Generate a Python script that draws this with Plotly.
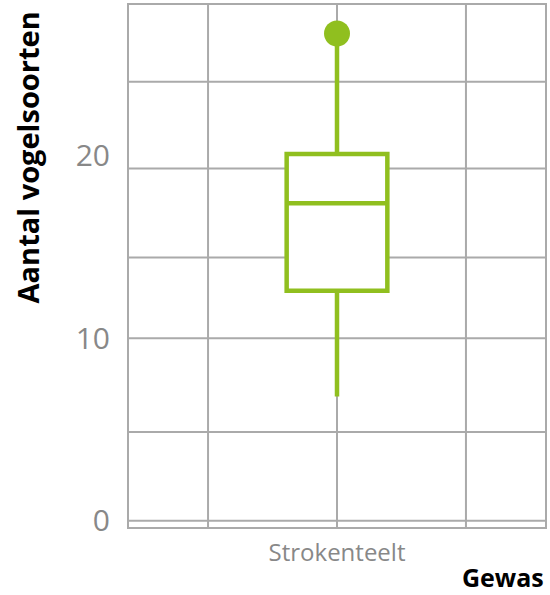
import plotly.graph_objects as go

categories = ["Strokenteelt"]
q1 = [12.6]
median = [17.4]
q3 = [20.1]
lowerfence = [6.8]
upperfence = [26.7]
outliers = [26.7]
y_tickvals = [0, 10, 20]
y_ticktext = ["0", "10", "20"]
grid_y = [0, 4.86, 10, 14.42, 19.3, 24.05]
grid_x_paper = [0.19, 0.5, 0.81]

GREEN = "#90BF1F"
GRID = "#AAAAAA"
FONT = "Open Sans"

fig = go.Figure()
fig.add_trace(go.Box(
    x=categories, q1=q1, median=median, q3=q3,
    lowerfence=lowerfence, upperfence=upperfence,
    width=0.242, whiskerwidth=0,
    line=dict(color=GREEN, width=4.5),
    fillcolor="white", boxpoints=False, showlegend=False, hoverinfo="skip",
))
fig.add_trace(go.Scatter(
    x=categories, y=outliers, mode="markers",
    marker=dict(color=GREEN, size=26, line=dict(width=0)),
    showlegend=False, hoverinfo="skip",
))

shapes = []
for gy in grid_y:
    shapes.append(dict(type="line", xref="paper", yref="y", x0=0, x1=1, y0=gy, y1=gy,
                       line=dict(color=GRID, width=2), layer="below"))
for gx in grid_x_paper:
    shapes.append(dict(type="line", xref="paper", yref="paper", x0=gx, x1=gx, y0=0, y1=1,
                       line=dict(color=GRID, width=2), layer="below"))

fig.update_layout(
    width=550, height=595,
    margin=dict(l=129, r=3, t=5, b=68),
    paper_bgcolor="white", plot_bgcolor="white",
    font=dict(family=FONT),
    shapes=shapes,
    xaxis=dict(
        range=[-0.5, 0.5], showgrid=False, zeroline=False,
        showline=True, mirror=True, linecolor=GRID, linewidth=2,
        ticks="", tickfont=dict(size=24, color="#888888", family=FONT),
        ticklabelstandoff=3,
    ),
    yaxis=dict(
        range=[-0.345, 28.26], showgrid=False, zeroline=False,
        showline=True, mirror=True, linecolor=GRID, linewidth=2,
        tickvals=y_tickvals, ticktext=y_ticktext, ticks="",
        tickfont=dict(size=30, color="#888888", family=FONT),
        ticklabelstandoff=11,
    ),
    annotations=[
        dict(text="<b>Gewas</b>", xref="paper", yref="paper", x=1, y=0,
             xanchor="right", yanchor="middle", yshift=-50, xshift=0, showarrow=False,
             borderpad=0,
             font=dict(size=25, color="black", family=FONT)),
        dict(text="<b>Aantal vogelsoorten</b>", xref="paper", yref="paper",
             x=0, y=0.708, xanchor="center", yanchor="middle", xshift=-102,
             textangle=-90, showarrow=False,
             font=dict(size=29, color="black", family=FONT)),
    ],
)

fig.write_html("out.html", config={"displayModeBar": False},
               post_script="document.body.style.margin='0';document.body.style.padding='0';")
